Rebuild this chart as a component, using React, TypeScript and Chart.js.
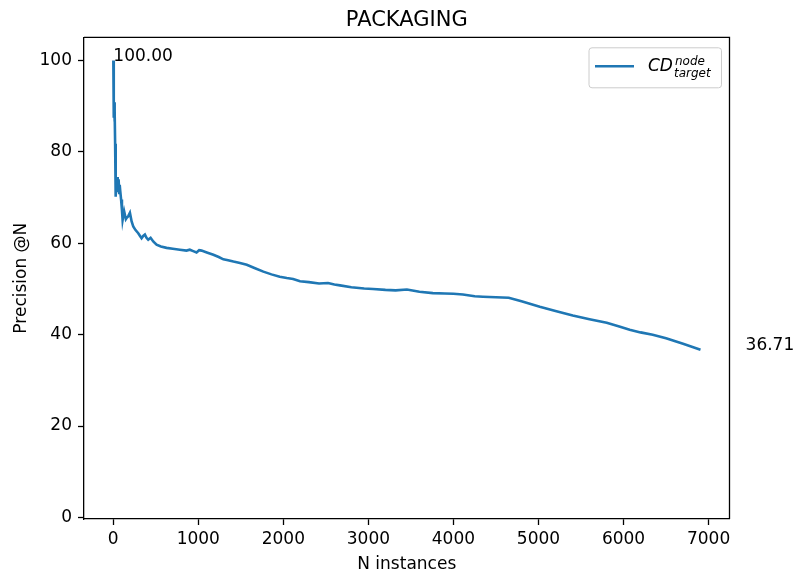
import React, { useEffect, useRef } from "react";
import { Chart, registerables } from "chart.js";

Chart.register(...registerables);

const TITLE = "PACKAGING";
const X_LABEL = "N instances";
const Y_LABEL = "Precision @N";
const SERIES_COLOR = "#1f77b4";

// N (instances) and Precision@N
const N_VALUES = [
  1, 4, 8, 11, 15, 18, 22, 26, 31, 36, 41, 47, 52, 57, 63, 70, 76, 82, 92, 102,
  110, 118, 128, 138, 148, 158, 175, 196, 216, 235, 262, 294, 315, 333, 352, 372,
  391, 411, 439, 470, 509, 560, 627, 700, 783, 861, 900, 940, 979, 1010, 1038,
  1100, 1177, 1240, 1295, 1350, 1413, 1490, 1570, 1660, 1765, 1860, 1958, 2040,
  2115, 2196, 2300, 2420, 2525, 2600, 2666, 2800, 2950, 3054, 3200, 3320, 3453,
  3600, 3758, 3900, 4000, 4111, 4250, 4346, 4500, 4650, 4800, 5015, 5200, 5403,
  5600, 5802, 5950, 6072, 6200, 6343, 6500, 6700, 6905,
];
const PRECISION = [
  100, 100, 87.5, 90.9, 86.7, 88.9, 81.8, 79.5, 70.2, 74.0, 71.5, 74.5, 71.2,
  73.1, 74.0, 71.0, 72.8, 71.5, 69.6, 67.3, 65.1, 66.0, 67.0, 67.0, 65.3, 65.6,
  65.9, 66.7, 64.8, 63.7, 62.9, 62.2, 61.6, 61.1, 61.6, 61.9, 61.2, 60.8, 61.2,
  60.4, 59.7, 59.3, 59.0, 58.8, 58.6, 58.4, 58.6, 58.3, 58.0, 58.5, 58.4, 58.0,
  57.5, 57.0, 56.5, 56.3, 56.0, 55.7, 55.3, 54.6, 53.8, 53.2, 52.7, 52.4, 52.2,
  51.7, 51.5, 51.2, 51.3, 51.0, 50.8, 50.4, 50.1, 50.0, 49.8, 49.7, 49.9, 49.4,
  49.1, 49.0, 48.95, 48.8, 48.4, 48.3, 48.2, 48.1, 47.3, 46.1, 45.2, 44.2, 43.4,
  42.6, 41.8, 41.1, 40.5, 40.0, 39.2, 38.0, 36.71,
];

const X_TICKS = [0, 1000, 2000, 3000, 4000, 5000, 6000, 7000];
const Y_TICKS = [0, 20, 40, 60, 80, 100];
const X_MIN = -344;
const X_MAX = 7246;
const Y_MIN = -0.35;
const Y_MAX = 105.1;

// Text annotations: [N, precision] where labels are anchored
const START_ANNOT = [1, 100];
const END_ANNOT = [7435, 36.71];

const FONT = "DejaVu Sans";

const decorPlugin = {
  id: "decor",
  afterDraw(chart: any) {
    const { ctx, chartArea, scales } = chart;
    const xs = scales.x;
    const ys = scales.y;
    ctx.save();
    // top and right spines
    ctx.strokeStyle = "#000";
    ctx.lineWidth = 1.3;
    ctx.beginPath();
    ctx.moveTo(chartArea.left, chartArea.top);
    ctx.lineTo(chartArea.right, chartArea.top);
    ctx.lineTo(chartArea.right, chartArea.bottom);
    ctx.stroke();

    // annotations
    ctx.fillStyle = "#000";
    ctx.font = `17px '${FONT}'`;
    ctx.textAlign = "left";
    ctx.textBaseline = "alphabetic";
    ctx.fillText(
      START_ANNOT[1].toFixed(2),
      xs.getPixelForValue(START_ANNOT[0]),
      ys.getPixelForValue(START_ANNOT[1])
    );
    ctx.fillText(
      END_ANNOT[1].toFixed(2),
      xs.getPixelForValue(END_ANNOT[0]),
      ys.getPixelForValue(END_ANNOT[1])
    );

    // legend
    const bx = chartArea.right - 140.5;
    const by = chartArea.top + 10.5;
    const bw = 132.5;
    const bh = 40;
    ctx.beginPath();
    (ctx as any).roundRect(bx, by, bw, bh, 3);
    ctx.fillStyle = "rgba(255,255,255,0.8)";
    ctx.fill();
    ctx.strokeStyle = "#cccccc";
    ctx.lineWidth = 1;
    ctx.stroke();

    ctx.strokeStyle = SERIES_COLOR;
    ctx.lineWidth = 2.6;
    ctx.beginPath();
    ctx.moveTo(bx + 6, by + 18.5);
    ctx.lineTo(bx + 45, by + 18.5);
    ctx.stroke();

    ctx.fillStyle = "#000";
    ctx.font = `italic 17px '${FONT}'`;
    ctx.fillText("CD", bx + 59, by + 23);
    ctx.font = `italic 12px '${FONT}'`;
    ctx.fillText("node", bx + 86, by + 17);
    ctx.fillText("target", bx + 85, by + 29);
    ctx.restore();
  },
};

export default function App() {
  const canvasRef = useRef<HTMLCanvasElement | null>(null);

  useEffect(() => {
    if (!canvasRef.current) return;
    const tickFont = { family: FONT, size: 17 };
    const chart = new Chart(canvasRef.current, {
      type: "line",
      data: {
        datasets: [
          {
            label: "CD_target^node",
            data: N_VALUES.map((n, i) => ({ x: n, y: PRECISION[i] })),
            borderColor: SERIES_COLOR,
            backgroundColor: SERIES_COLOR,
            borderWidth: 2.6,
            pointRadius: 0,
            tension: 0,
            fill: false,
          },
        ],
      },
      options: {
        animation: false,
        responsive: false,
        layout: { padding: { left: 0, right: 70.5, top: 0, bottom: 0 } },
        plugins: {
          legend: { display: false },
          tooltip: { enabled: false },
          title: {
            display: true,
            text: TITLE,
            fullSize: false,
            color: "#000",
            font: { family: FONT, size: 21, weight: "normal" },
            padding: { top: 8, bottom: 4.1 },
          },
        },
        scales: {
          x: {
            type: "linear",
            min: X_MIN,
            max: X_MAX,
            afterBuildTicks: (s: any) => {
              s.ticks = X_TICKS.map((v) => ({ value: v }));
            },
            afterFit: (s: any) => {
              s.height = 58;
            },
            ticks: {
              color: "#000",
              font: tickFont,
              padding: 4,
              maxRotation: 0,
              autoSkip: false,
              callback: (v: any) => String(v),
            },
            grid: {
              drawOnChartArea: false,
              drawTicks: true,
              tickLength: 6,
              tickWidth: 1.3,
              tickColor: "#000",
            },
            border: { display: true, color: "#000", width: 1.3 },
            title: {
              display: true,
              text: X_LABEL,
              color: "#000",
              font: tickFont,
              padding: { top: 0, bottom: 2 },
            },
          },
          y: {
            type: "linear",
            min: Y_MIN,
            max: Y_MAX,
            afterBuildTicks: (s: any) => {
              s.ticks = Y_TICKS.map((v) => ({ value: v }));
            },
            afterFit: (s: any) => {
              s.width = 84;
            },
            ticks: {
              color: "#000",
              font: tickFont,
              padding: 6,
              autoSkip: false,
              callback: (v: any) => String(v),
            },
            grid: {
              drawOnChartArea: false,
              drawTicks: true,
              tickLength: 6,
              tickWidth: 1.3,
              tickColor: "#000",
            },
            border: { display: true, color: "#000", width: 1.3 },
            title: {
              display: true,
              text: Y_LABEL,
              color: "#000",
              font: tickFont,
              padding: { top: 11, bottom: 0 },
            },
          },
        },
      },
      plugins: [decorPlugin],
    } as any);
    return () => chart.destroy();
  }, []);

  return (
    <div style={{ position: "absolute", left: 0, top: 0, width: 800, height: 577, background: "#fff" }}>
      <canvas ref={canvasRef} width={800} height={577} style={{ display: "block" }} />
    </div>
  );
}
